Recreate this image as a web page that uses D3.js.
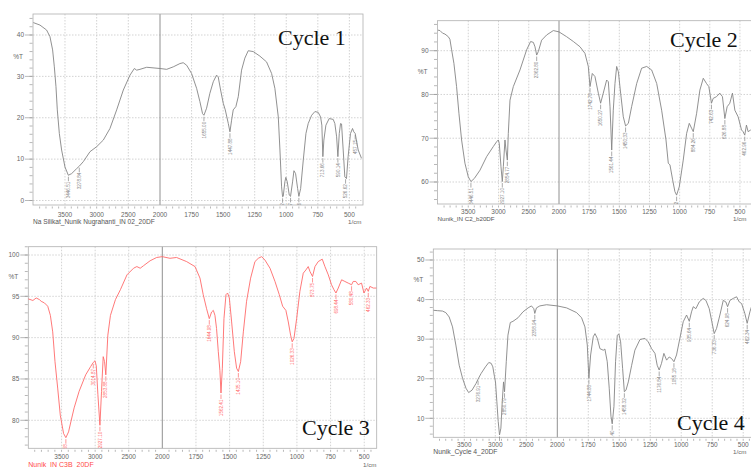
<!DOCTYPE html>
<html>
<head>
<meta charset="utf-8">
<script src="https://cdn.jsdelivr.net/npm/d3@7"></script>
<style>
  body { margin: 0; background: #fff; }
  svg { display: block; font-family: "Liberation Sans", Arial, sans-serif; }
</style>
</head>
<body>
<div id="chart"></div>
<script>
// spectra: [wavenumber (1/cm), %T]
var cycle1 = [[4000,43.0],[3895,42.4],[3790,41.2],[3737,39.6],[3695,36.4],[3668,32.3],[3642,27.5],[3621,21.9],[3589,16.2],[3553,12.2],
  [3500,8.1],[3447,6.1],[3395,6.5],[3316,7.7],[3274,8.3],[3210,9.4],[3105,11.8],[3000,13.0],[2895,14.6],[2790,17.4],
  [2684,21.9],[2579,26.7],[2474,30.3],[2405,31.9],[2368,31.5],[2316,31.7],[2210,32.2],[2000,31.9],[1947,31.7],[1895,32.3],
  [1842,33.1],[1816,33.3],[1789,32.7],[1750,30.7],[1710,27.1],[1684,23.9],[1663,21.0],[1652,20.6],[1631,22.3],[1605,25.9],
  [1578,28.7],[1552,30.3],[1539,29.9],[1520,26.7],[1499,23.5],[1483,21.9],[1459,18.6],[1446,16.6],[1433,19.4],[1420,21.9],
  [1399,22.7],[1380,25.1],[1354,31.5],[1328,34.4],[1301,36.2],[1262,36.0],[1209,34.9],[1156,33.5],[1116,30.7],[1090,27.1],
  [1063,20.2],[1050,12.2],[1037,3.3],[1029,0.9],[1024,1.0],[1011,4.5],[1003,5.6],[992,4.5],[976,1.3],[966,1.0],
  [950,4.5],[939,7.2],[926,6.5],[910,2.9],[900,1.0],[886,2.9],[865,9.8],[844,16.2],[826,18.6],[799,20.6],
  [773,21.5],[747,21.3],[728,20.2],[718,18.2],[710,10.6],[702,14.6],[686,18.2],[660,19.8],[628,19.6],[615,18.6],
  [601,15.4],[591,10.6],[580,16.2],[570,18.6],[562,18.5],[549,12.2],[536,5.7],[523,5.3],[510,10.6],[491,16.2],
  [475,17.4],[465,16.6],[454,16.2],[430,12.2],[404,10.2]];

var cycle2 = [[4000,94.7],[3967,94.6],[3924,94.0],[3885,93.8],[3830,93.2],[3803,92.6],[3775,90.2],[3737,87.1],[3693,81.8],[3654,75.7],
  [3610,69.6],[3555,64.3],[3500,61.2],[3456,60.1],[3400,60.8],[3306,62.7],[3196,65.8],[3086,68.1],[3031,69.2],[3003,69.6],
  [2987,68.8],[2959,63.5],[2937,60.1],[2920,63.5],[2893,69.6],[2876,67.3],[2854,65.0],[2838,71.1],[2810,78.7],[2755,81.8],
  [2645,85.6],[2535,90.2],[2469,92.1],[2424,91.9],[2397,90.9],[2369,89.0],[2342,89.8],[2287,92.4],[2204,93.6],[2094,94.6],
  [2000,94.3],[1937,93.2],[1881,92.1],[1826,90.9],[1785,89.4],[1757,86.4],[1743,81.8],[1724,84.8],[1702,84.1],[1674,80.3],
  [1655,78.0],[1633,80.3],[1605,83.3],[1591,82.9],[1577,77.2],[1563,67.3],[1550,76.4],[1536,82.5],[1522,86.4],[1508,85.2],
  [1489,80.3],[1467,74.9],[1448,72.8],[1425,73.4],[1398,77.2],[1356,82.5],[1315,86.0],[1273,86.4],[1232,85.6],[1190,82.5],
  [1149,76.4],[1113,69.6],[1094,64.3],[1080,63.9],[1058,60.5],[1039,57.8],[1025,57.0],[1003,58.9],[970,65.0],[942,71.1],
  [920,73.4],[901,72.3],[887,71.5],[859,75.7],[832,81.0],[804,83.7],[777,82.5],[758,81.8],[736,78.0],[722,79.1],
  [694,79.5],[667,80.3],[645,79.5],[625,74.5],[606,77.2],[584,78.0],[562,80.3],[542,76.4],[515,74.9],[487,71.9],
  [474,71.5],[460,70.7],[446,73.0],[432,71.5],[410,71.9]];

var cycle3 = [[4000,94.7],[3927,94.5],[3878,94.8],[3829,94.6],[3804,94.4],[3755,94.2],[3706,93.8],[3667,92.7],[3632,90.7],[3598,87.1],
  [3558,83.9],[3519,80.6],[3470,78.4],[3436,77.9],[3396,78.6],[3362,79.8],[3313,81.5],[3239,83.5],[3141,85.5],[3067,86.5],
  [3028,87.0],[3003,87.2],[2983,86.6],[2959,83.1],[2929,79.4],[2905,83.5],[2880,87.7],[2860,87.1],[2841,85.5],[2811,90.3],
  [2772,92.7],[2698,94.6],[2624,95.8],[2526,97.6],[2428,98.4],[2379,98.6],[2329,98.4],[2280,98.7],[2182,99.3],[2084,99.7],
  [2000,99.8],[1943,99.6],[1894,99.7],[1819,99.2],[1757,98.6],[1720,97.2],[1696,95.2],[1671,93.5],[1651,92.3],[1634,93.1],
  [1621,93.3],[1609,92.7],[1597,91.1],[1584,88.3],[1572,86.0],[1564,83.3],[1554,86.3],[1542,92.3],[1527,95.2],[1515,95.4],
  [1502,94.8],[1485,91.9],[1465,88.3],[1448,86.3],[1435,85.9],[1418,87.1],[1398,90.7],[1374,94.4],[1344,97.2],[1312,99.2],
  [1287,99.6],[1262,99.8],[1238,99.4],[1200,98.4],[1163,96.8],[1131,95.2],[1106,93.8],[1082,93.3],[1064,91.9],[1047,90.3],
  [1035,89.5],[1022,89.9],[1002,92.3],[978,95.6],[953,97.8],[933,98.2],[916,98.6],[903,98.0],[884,97.4],[866,98.6],
  [842,99.2],[812,99.5],[792,98.6],[767,97.6],[743,96.4],[725,95.8],[710,95.4],[693,96.0],[668,97.0],[644,96.8],
  [619,96.6],[594,96.4],[582,96.8],[562,96.8],[545,96.4],[520,96.6],[502,95.4],[483,96.0],[470,95.6],[458,96.2],
  [433,96.0],[408,96.0]];

var cycle4 = [[4000,37.3],[3934,37.2],[3852,37.1],[3798,36.7],[3744,35.6],[3690,33.1],[3636,28.5],[3582,23.4],[3528,20.1],[3473,17.6],
  [3430,16.5],[3376,17.1],[3311,18.8],[3278,19.9],[3230,21.3],[3159,23.0],[3105,24.1],[3067,23.9],[3040,23.0],[3013,20.5],
  [2997,19.2],[2975,14.2],[2953,9.2],[2932,5.8],[2910,7.5],[2888,14.2],[2867,19.2],[2851,16.7],[2823,24.3],[2796,31.0],
  [2758,34.2],[2715,34.5],[2634,35.4],[2553,36.9],[2471,37.9],[2417,38.4],[2379,37.7],[2363,36.5],[2336,37.9],[2282,38.4],
  [2173,38.7],[2000,38.4],[1925,37.9],[1844,36.7],[1804,35.4],[1777,33.1],[1758,28.5],[1745,20.1],[1731,26.0],[1710,30.6],
  [1696,31.4],[1677,30.2],[1656,27.6],[1629,27.2],[1616,27.5],[1597,24.3],[1581,17.6],[1567,10.5],[1557,8.6],[1543,13.0],
  [1530,24.3],[1516,31.0],[1503,31.3],[1489,29.3],[1473,22.6],[1459,16.7],[1446,17.1],[1427,19.2],[1400,23.4],[1374,27.2],
  [1333,29.9],[1293,30.2],[1266,29.3],[1239,27.6],[1212,26.4],[1194,23.4],[1178,22.2],[1159,23.9],[1140,26.4],[1118,24.7],
  [1097,25.5],[1078,25.1],[1059,24.3],[1038,26.0],[1011,30.2],[984,34.4],[957,36.1],[935,34.5],[917,36.9],[903,38.2],
  [882,37.7],[855,39.4],[823,40.3],[801,39.8],[774,37.7],[753,34.4],[734,31.4],[715,32.7],[688,36.1],[661,39.8],
  [640,39.4],[626,38.2],[607,39.8],[580,40.3],[553,40.7],[532,39.4],[513,39.0],[487,36.5],[468,34.0],[446,36.9],
  [433,38.2],[400,38.5]];

// marked peaks: [wavenumber, label]
var peaks1 = [[3446,"3446.51"],[3274,"3278.84"],[1652,"1655.00"],[1446,"1447.88"],[1029,"1026.12"],[966,"968.27"],[900,"900.76"],
  [710,"713.66"],[591,"590.14"],[530,"526.62"],[454,"457.15"]];
var peaks2 = [[3456,"3446.51"],[2937,"2927.10"],[2854,"2854.77"],[2369,"2362.80"],[1743,"1742.78"],[1655,"1650.27"],[1563,"1561.44"],
  [1448,"1450.33"],[1025,"1028.12"],[887,"884.26"],[736,"742.63"],[625,"626.88"],[460,"462.96"]];
var peaks3 = [[3436,"3436.58"],[3028,"3014.87"],[2929,"2927.10"],[2841,"2853.88"],[1651,"1644.98"],[1564,"1562.41"],[1435,"1435.10"],
  [1035,"1026.33"],[884,"873.75"],[710,"698.44"],[594,"580.48"],[470,"462.33"]];
var peaks4 = [[3278,"3276.91"],[2932,"2920.72"],[2851,"2850.79"],[2363,"2358.94"],[1745,"1744.88"],[1557,"1557.40"],[1459,"1458.32"],
  [1178,"1176.84"],[1059,"1055.18"],[935,"935.64"],[734,"736.33"],[626,"624.98"],[468,"462.34"]];

var xTicks = [3500,3000,2500,2000,1750,1500,1250,1000,750,500];
var yTicks1 = [0,10,20,30,40];
var yTicks2 = [60,70,80,90];
var yTicks3 = [80,85,90,95,100];
var yTicks4 = [10,20,30,40,50];
var titles = ["Cycle 1","Cycle 2","Cycle 3","Cycle 4"];
var fileNames = ["Na Silikat_Nunik Nugrahanti_IN 02_20DF","Nunik_IN C2_b20DF","Nunik_IN C3B_20DF","Nunik_Cycle 4_20DF"];

var panels = [
  {data: cycle1, peaks: peaks1, yTicks: yTicks1, yStep: 2, title: titles[0], file: fileNames[0],
   xr: [33.3, 160, 362], left: 33, right: 363, top: 14, bottom: 205, yd: [0, 40], yr: [200.5, 35],
   color: "#858585", fileColor: "#555", fs: 6.6, tx: 278, ty: 45, tickY: 216.5, fileY: 224, unitX: 348, pctY: 59},
  {data: cycle2, peaks: peaks2, yTicks: yTicks2, yStep: 2, title: titles[1], file: fileNames[1],
   xr: [438, 559, 752], left: 437.5, right: 760, top: 20.7, bottom: 204, yd: [60, 90], yr: [182, 50.7],
   color: "#858585", fileColor: "#555", fs: 6.2, tx: 670, ty: 47, tickY: 214, fileY: 221, unitX: 733, pctY: 74},
  {data: cycle3, peaks: peaks3, yTicks: yTicks3, yStep: 1, title: titles[2], file: fileNames[2],
   xr: [28, 162.3, 377.7], left: 28.3, right: 376.7, top: 246.7, bottom: 448.3, yd: [80, 100], yr: [420.3, 255],
   color: "#ff6a6a", fileColor: "#ff4a4a", fs: 7, tx: 302, ty: 435, tickY: 458.5, fileY: 467, unitX: 363, pctY: 279},
  {data: cycle4, peaks: peaks4, yTicks: yTicks4, yStep: 2, title: titles[3], file: fileNames[3],
   xr: [433.3, 557.3, 755.6], left: 433.3, right: 760, top: 249, bottom: 437.3, yd: [10, 50], yr: [418.3, 260],
   color: "#858585", fileColor: "#555", fs: 6.8, tx: 677, ty: 430, tickY: 446.5, fileY: 454, unitX: 733, pctY: 282}
];

var svg = d3.select("#chart").append("svg")
    .attr("width", 751)
    .attr("height", 468);

// interpolate %T at a wavenumber
function tAt(data, wn) {
  for (var i = 0; i < data.length - 1; i++) {
    if (data[i][0] >= wn && data[i + 1][0] <= wn) {
      var f = (data[i][0] - wn) / (data[i][0] - data[i + 1][0]);
      return data[i][1] + f * (data[i + 1][1] - data[i][1]);
    }
  }
  return data[data.length - 1][1];
}

panels.forEach(function(p, k) {
  var x = d3.scaleLinear().domain([4000, 2000, 400]).range(p.xr);
  var y = d3.scaleLinear().domain(p.yd).range(p.yr);
  var g = svg.append("g");

  var clipId = "clip" + k;
  svg.append("clipPath").attr("id", clipId)
    .append("rect")
      .attr("x", p.left).attr("y", p.top)
      .attr("width", p.right - p.left).attr("height", p.bottom - p.top);

  // dotted grid
  var yMin = y.invert(p.bottom), yMax = y.invert(p.top);
  g.selectAll(".gx").data(xTicks.filter(function(d) { return d != 2000; }))
    .enter().append("line")
      .attr("x1", function(d) { return x(d); }).attr("x2", function(d) { return x(d); })
      .attr("y1", p.top).attr("y2", p.bottom)
      .attr("stroke", "#c8c8c8").attr("stroke-width", 0.8).attr("stroke-dasharray", "1.5,1.5");
  g.selectAll(".gy").data(p.yTicks.filter(function(d) { return d > yMin && d < yMax; }))
    .enter().append("line")
      .attr("x1", p.left).attr("x2", p.right)
      .attr("y1", function(d) { return y(d); }).attr("y2", function(d) { return y(d); })
      .attr("stroke", "#c8c8c8").attr("stroke-width", 0.8).attr("stroke-dasharray", "1.5,1.5");
  g.append("line")
      .attr("x1", x(2000)).attr("x2", x(2000))
      .attr("y1", p.top).attr("y2", p.bottom)
      .attr("stroke", "#909090").attr("stroke-width", 1);

  // frame
  g.append("rect")
      .attr("x", p.left).attr("y", p.top)
      .attr("width", p.right - p.left).attr("height", p.bottom - p.top)
      .attr("fill", "none").attr("stroke", "#b0b0b0").attr("stroke-width", 0.8);

  // x ticks
  var xMinor = d3.range(3900, 2000, -100).concat(d3.range(1950, 400, -50));
  g.selectAll(".xm").data(xMinor.filter(function(d) { return x(d) < p.right; }))
    .enter().append("line")
      .attr("x1", function(d) { return x(d); }).attr("x2", function(d) { return x(d); })
      .attr("y1", p.bottom + 1.5).attr("y2", p.bottom + 3.5)
      .attr("stroke", "#999").attr("stroke-width", 0.7);
  g.selectAll(".xl").data(xTicks)
    .enter().append("text")
      .attr("x", function(d) { return x(d); })
      .attr("y", p.tickY)
      .attr("text-anchor", "middle")
      .attr("font-size", 6.5)
      .attr("fill", "#666")
      .text(function(d) { return d; });

  // y ticks
  var yMinorVals = d3.range(Math.ceil(yMin / p.yStep) * p.yStep, yMax, p.yStep);
  g.selectAll(".ym").data(yMinorVals)
    .enter().append("line")
      .attr("x1", p.left - 3.5).attr("x2", p.left - 0.5)
      .attr("y1", function(d) { return y(d); }).attr("y2", function(d) { return y(d); })
      .attr("stroke", "#999").attr("stroke-width", 0.7);
  g.selectAll(".yM").data(p.yTicks)
    .enter().append("line")
      .attr("x1", p.left - 8).attr("x2", p.left - 0.5)
      .attr("y1", function(d) { return y(d); }).attr("y2", function(d) { return y(d); })
      .attr("stroke", "#999").attr("stroke-width", 0.7);
  g.selectAll(".yl").data(p.yTicks)
    .enter().append("text")
      .attr("x", p.left - 9)
      .attr("y", function(d) { return y(d) + 2.3; })
      .attr("text-anchor", "end")
      .attr("font-size", 6.5)
      .attr("fill", "#666")
      .text(function(d) { return d; });
  g.append("text")
      .attr("x", p.left - 10).attr("y", p.pctY)
      .attr("text-anchor", "end").attr("font-size", 6.5).attr("fill", "#666")
      .text("%T");

  // spectrum
  var line = d3.line()
      .x(function(d) { return x(d[0]); })
      .y(function(d) { return y(d[1]); });
  g.append("path")
      .datum(p.data)
      .attr("clip-path", "url(#" + clipId + ")")
      .attr("d", line)
      .attr("fill", "none")
      .attr("stroke", p.color)
      .attr("stroke-width", 0.9);

  // peak markers
  p.peaks.forEach(function(pk) {
    var px = x(pk[0]), py = y(tAt(p.data, pk[0]));
    g.append("line")
        .attr("x1", px).attr("x2", px)
        .attr("y1", py + 1.5).attr("y2", Math.min(py + 6, p.bottom + 4))
        .attr("stroke", p.color).attr("stroke-width", 0.7);
    g.append("g").attr("clip-path", "url(#" + clipId + ")")
      .append("text")
        .attr("transform", "translate(" + px + "," + (py + 6.5) + ") rotate(-90)")
        .attr("text-anchor", "end")
        .attr("dy", "0.35em")
        .attr("font-size", 4.6)
        .attr("fill", p.color)
        .text(pk[1]);
  });

  // captions
  g.append("text")
      .attr("x", p.left).attr("y", p.fileY)
      .attr("font-size", p.fs).attr("fill", p.fileColor)
      .text(p.file);
  g.append("text")
      .attr("x", p.unitX).attr("y", p.fileY)
      .attr("font-size", 6.2).attr("fill", "#666")
      .text("1/cm");
  g.append("text")
      .attr("x", p.tx).attr("y", p.ty)
      .style("font-family", "'Liberation Serif', 'Times New Roman', serif")
      .attr("font-size", 22)
      .attr("fill", "#111")
      .text(p.title);
});
</script>
</body>
</html>
